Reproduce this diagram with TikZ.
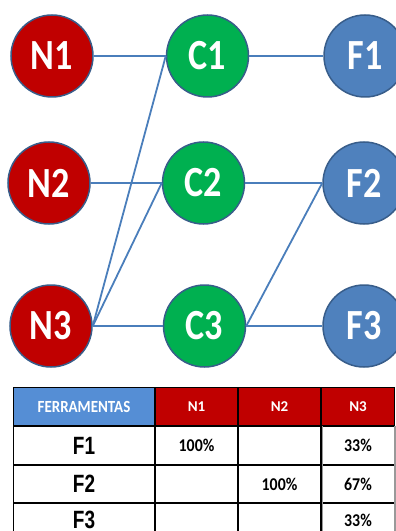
\documentclass[tikz,border=0pt]{standalone}
\usepackage{fontspec}
\setmainfont{Carlito}
\newfontfamily\arialfont{Liberation Sans}
\usepackage{graphicx}
\usepackage{xcolor}
\definecolor{nred}{HTML}{C00000}
\definecolor{cgreen}{HTML}{00B050}
\definecolor{fblue}{HTML}{4F81BD}
\definecolor{rimblue}{HTML}{385D8A}
\definecolor{headblue}{HTML}{558ED5}
\definecolor{linkblue}{HTML}{4A7EBB}
\usetikzlibrary{positioning}
\newcommand{\squeeze}[2][0.85]{\scalebox{#1}[1]{#2}}

\begin{document}
\begin{tikzpicture}[x=1bp,y=-1bp,
    bubble/.style={circle,draw=rimblue,line width=1.5bp,minimum size=82bp,inner sep=0pt,text=white,
      font=\fontsize{43bp}{43bp}\selectfont\bfseries},
    link/.style={draw=linkblue,line width=1.8bp},
    cell/.style={rectangle,draw=black,line width=1bp,minimum height=38bp,inner sep=0pt,anchor=north west},
    headcell/.style={cell,text=white,font=\fontsize{15bp}{15bp}\selectfont\bfseries},
    rowcell/.style={cell,minimum width=141bp,font=\arialfont\fontsize{25bp}{25bp}\selectfont\bfseries},
    valcell/.style={cell,font=\fontsize{18bp}{18bp}\selectfont\bfseries}]
\useasboundingbox (0,0) rectangle (395,531);
% Circles: N column, C column, F column
\node[bubble,fill=nred] (N1) at (52,56) {\squeeze[0.84]{N1}};
\node[bubble,fill=nred] (N2) at (49,183) {\squeeze[0.84]{N2}};
\node[bubble,fill=nred] (N3) at (51,326) {\squeeze[0.84]{N3}};
\node[bubble,fill=cgreen,right=72bp of N1] (C1) {\squeeze[0.84]{C1}};
\node[bubble,fill=cgreen,right=71bp of N2] (C2) {\squeeze[0.84]{C2}};
\node[bubble,fill=cgreen,right=70bp of N3] (C3) {\squeeze[0.84]{C3}};
\node[bubble,fill=fblue,right=74bp of C1] (F1) {\squeeze[0.84]{F1}};
\node[bubble,fill=fblue,right=77bp of C2] (F2) {\squeeze[0.84]{F2}};
\node[bubble,fill=fblue,right=76bp of C3] (F3) {\squeeze[0.84]{F3}};
% Links between the circles
\draw[link] (N1.east) -- (C1.west);
\draw[link] (N2.east) -- (C2.west);
\draw[link] (N3.east) -- (C1.west);
\draw[link] (N3.east) -- (C2.west);
\draw[link] (N3.east) -- (C3.west);
\draw[link] (C1.east) -- (F1.west);
\draw[link] (C2.east) -- (F2.west);
\draw[link] (C3.east) -- (F2.west);
\draw[link] (C3.east) -- (F3.west);
% Table: header row
\node[headcell,fill=headblue,minimum width=141bp,font=\fontsize{17bp}{17bp}\selectfont\bfseries] (hd) at (13,387) {\squeeze[0.88]{FERRAMENTAS}};
\node[headcell,fill=nred,minimum width=82bp,right=0pt of hd] (hN1) {N1};
\node[headcell,fill=nred,minimum width=82bp,right=0pt of hN1] (hN2) {N2};
\node[headcell,fill=nred,minimum width=73bp,right=0pt of hN2] (hN3) {N3};
% Table: body rows
\node[rowcell,below=0pt of hd] (rF1) {\squeeze[0.76]{F1}};
\node[valcell,minimum width=82bp,right=0pt of rF1] (v11) {\squeeze[0.88]{100\%}};
\node[valcell,minimum width=82bp,right=0pt of v11] (v12) {};
\node[valcell,minimum width=73bp,right=0pt of v12] (v13) {\squeeze[0.88]{33\%}};
\node[rowcell,minimum height=37bp,below=0pt of rF1] (rF2) {\squeeze[0.76]{F2}};
\node[valcell,minimum height=37bp,minimum width=82bp,right=0pt of rF2] (v21) {};
\node[valcell,minimum height=37bp,minimum width=82bp,right=0pt of v21] (v22) {\squeeze[0.88]{100\%}};
\node[valcell,minimum height=37bp,minimum width=73bp,right=0pt of v22] (v23) {\squeeze[0.88]{67\%}};
\node[rowcell,minimum height=33bp,below=0pt of rF2] (rF3) {\squeeze[0.76]{F3}};
\node[valcell,minimum height=33bp,minimum width=82bp,right=0pt of rF3] (v31) {};
\node[valcell,minimum height=33bp,minimum width=82bp,right=0pt of v31] (v32) {};
\node[valcell,minimum height=33bp,minimum width=73bp,right=0pt of v32] (v33) {\squeeze[0.88]{33\%}};
% gray rules round the last column
\draw[black!40,line width=1.5bp] ([xshift=1.5bp]v13.north west) -- ([xshift=1.5bp]v33.south west);
\draw[black!40,line width=1.5bp] (v13.north east) -- (v33.south east);
\end{tikzpicture}
\end{document}
